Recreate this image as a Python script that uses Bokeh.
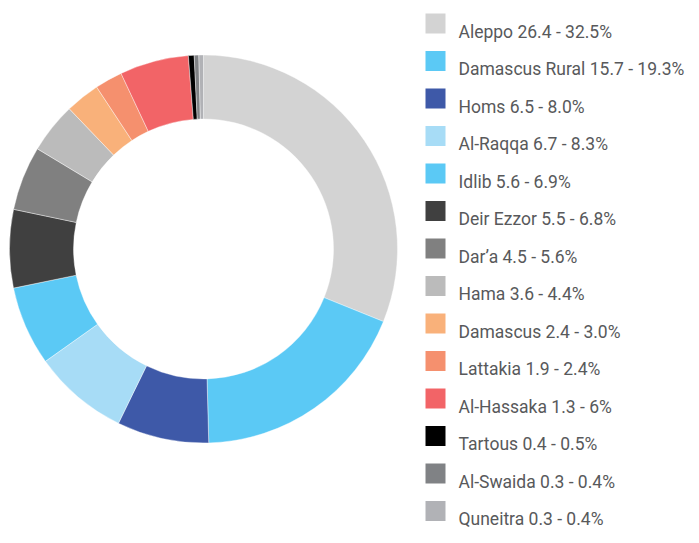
import math
from bokeh.plotting import figure
from bokeh.models import Range1d, ColumnDataSource
from bokeh.core.properties import value
from bokeh.embed import file_html
from bokeh.resources import INLINE

# ---- data ----
names = ["Aleppo", "Damascus Rural", "Homs", "Al-Raqqa", "Idlib", "Deir Ezzor",
         "Dar\u2019a", "Hama", "Damascus", "Lattakia", "Al-Hassaka", "Tartous",
         "Al-Swaida", "Quneitra"]
counts = ["26.4", "15.7", "6.5", "6.7", "5.6", "5.5", "4.5", "3.6", "2.4", "1.9",
          "1.3", "0.4", "0.3", "0.3"]
pct_labels = ["32.5%", "19.3%", "8.0%", "8.3%", "6.9%", "6.8%", "5.6%", "4.4%",
              "3.0%", "2.4%", "6%", "0.5%", "0.4%", "0.4%"]
shares = [32.5, 19.3, 8.0, 8.3, 6.9, 6.8, 5.6, 4.4, 3.0, 2.4, 6.0, 0.5, 0.4, 0.4]
colors = ["#d3d3d3", "#5bc9f5", "#3e59a8", "#a7dcf6", "#5bc9f5", "#404040",
          "#808080", "#bbbbbb", "#f9b17a", "#f5906e", "#f26467", "#000000",
          "#808285", "#b1b2b6"]

# ---- layout (pixel-like coordinates, y up) ----
W, H = 691, 535
p = figure(width=W, height=H, output_backend="svg", toolbar_location=None,
           x_range=Range1d(0, W), y_range=Range1d(0, H),
           min_border=0, outline_line_color=None)
p.axis.visible = False
p.grid.visible = False
p.background_fill_color = "white"

def sy(v):
    return H - v

cx, cy = 203, sy(248.5)
r_in, r_out = 130, 194

total = sum(shares)
starts, ends = [], []
cum = 0.0
for s in shares:
    starts.append(math.pi / 2 - 2 * math.pi * cum / total)
    cum += s
    ends.append(math.pi / 2 - 2 * math.pi * cum / total)

src = ColumnDataSource(dict(start=starts, end=ends, color=colors,
                            x=[cx] * len(shares), y=[cy] * len(shares)))
p.annular_wedge(x="x", y="y", inner_radius=r_in, outer_radius=r_out,
                start_angle="start", end_angle="end", direction="clock",
                fill_color="color", line_color="white", line_width=0.4,
                source=src)

# legend
row0, row_step = 23, 37.5
ly = [sy(row0 + i * row_step) for i in range(len(names))]
labels = [f"{n} {c} - {q}" for n, c, q in zip(names, counts, pct_labels)]
lsrc = ColumnDataSource(dict(x=[435] * len(names), y=ly, color=colors,
                             tx=[458] * len(names), ty=[v - 8 for v in ly],
                             label=labels))
p.rect(x="x", y="y", width=20, height=20, fill_color="color", line_color=None,
       source=lsrc)
p.text(x="tx", y="ty", text="label", text_font=value("Roboto"),
       text_font_size="17.5px", text_color="#58595b", text_baseline="alphabetic",
       text_align="left", source=lsrc)

open("out.html", "w").write(file_html(p, INLINE))
